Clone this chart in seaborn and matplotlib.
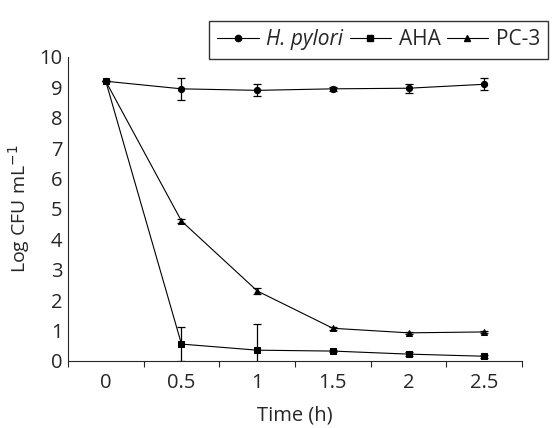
import numpy as np
import pandas as pd
import matplotlib
matplotlib.use("Agg")
import matplotlib.pyplot as plt
from matplotlib.lines import Line2D
import seaborn as sns

# time points (h) shown as evenly spaced categories
time_labels = ["0", "0.5", "1", "1.5", "2", "2.5"]
series_names = ["H. pylori", "AHA", "PC-3"]

hpylori_vals = [9.2, 8.95, 8.9, 8.95, 8.97, 9.1]
hpylori_err = [0.0, 0.37, 0.2, 0.07, 0.15, 0.2]
aha_vals = [9.2, 0.55, 0.35, 0.32, 0.22, 0.15]
aha_err = [0.0, 0.55, 0.87, 0.04, 0.06, 0.05]
pc3_vals = [9.2, 4.6, 2.3, 1.07, 0.92, 0.95]
pc3_err = [0.0, 0.05, 0.1, 0.05, 0.04, 0.04]

values = [hpylori_vals, aha_vals, pc3_vals]
errors = [hpylori_err, aha_err, pc3_err]

rows = []
for name, vals, errs in zip(series_names, values, errors):
    for i, (v, e) in enumerate(zip(vals, errs)):
        rows.append({"series": name, "pos": i, "value": v, "err": e})
df = pd.DataFrame(rows)

sns.set_style("ticks")
plt.rcParams["font.family"] = ["Open Sans", "DejaVu Sans"]
FS = 14.5

fig = plt.figure(figsize=(5.52, 4.28), dpi=100)
ax = fig.add_axes([0.123, 0.157, 0.823, 0.710])

markers = {"H. pylori": "o", "AHA": "s", "PC-3": "^"}
palette = {name: "black" for name in series_names}
sns.lineplot(data=df, x="pos", y="value", hue="series", style="series",
             markers=markers, dashes=False, palette=palette, ax=ax,
             linewidth=0.8, markersize=4.5, markeredgecolor="black",
             legend=False, zorder=3)

for name in series_names:
    sub = df[df["series"] == name]
    ax.errorbar(sub["pos"], sub["value"], yerr=sub["err"], fmt="none",
                ecolor="black", elinewidth=0.9, capsize=3, capthick=0.9,
                zorder=2)

ax.set_xlim(-0.5, 5.5)
ax.set_ylim(0, 10)
ax.set_yticks(range(0, 11))
ax.set_xticks(range(len(time_labels)))
ax.set_xticklabels(time_labels)
ax.tick_params(axis="x", length=0, labelsize=FS, pad=9)
ax.set_xticks(np.arange(-0.5, 6.0, 1.0), minor=True)
ax.tick_params(axis="x", which="minor", length=4, direction="out", width=0.8)
ax.tick_params(axis="y", length=0, labelsize=FS, pad=4)
for side in ["top", "right"]:
    ax.spines[side].set_visible(False)
ax.spines["left"].set_linewidth(0.8)
ax.spines["bottom"].set_linewidth(0.8)

ax.set_xlabel("Time (h)", fontsize=14.5, labelpad=9)
ax.set_ylabel("Log CFU mL$^{-1}$", fontsize=14, labelpad=5)

handles = [Line2D([], [], color="black", marker=markers[n], markersize=4.5,
                  linewidth=0.8) for n in series_names]
leg = fig.legend(handles, series_names, loc="upper right", ncol=3,
                 bbox_to_anchor=(1.012, 0.975), frameon=True, fancybox=False,
                 edgecolor="black", fontsize=15, handlelength=2.0,
                 handletextpad=0.35, columnspacing=0.3, borderpad=0.4)
leg.get_frame().set_linewidth(1.0)
leg.get_texts()[0].set_style("italic")

fig.savefig("out.png", dpi=100)
